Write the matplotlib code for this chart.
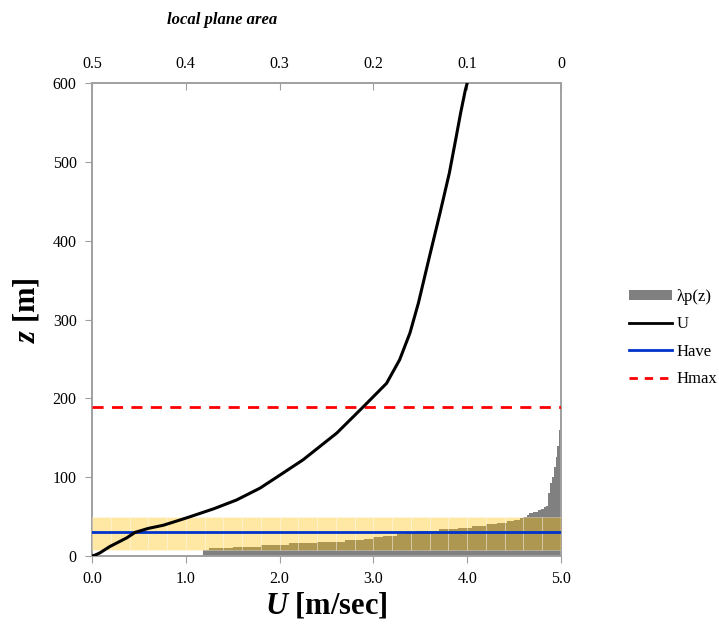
import numpy as np
import matplotlib
matplotlib.use('Agg')
import matplotlib.pyplot as plt
from matplotlib.lines import Line2D
from matplotlib.patches import Patch

plt.rcParams['font.family'] = ['Liberation Serif', 'DejaVu Serif']
plt.rcParams['mathtext.fontset'] = 'custom'
plt.rcParams['mathtext.rm'] = 'Liberation Serif'
plt.rcParams['mathtext.it'] = 'Liberation Serif:italic'
plt.rcParams['mathtext.bf'] = 'Liberation Serif:bold'
plt.rcParams['mathtext.bfit'] = 'Liberation Serif:italic:bold'

# wind profile U(z)
z_u = [0, 1, 4, 12, 23, 30, 35, 39, 45, 50, 60, 71, 86, 100, 122, 156, 189, 219,
       249, 283, 321, 376, 435, 486, 530, 562, 591, 600]
u_val = [0, 0.03, 0.085, 0.19, 0.37, 0.46, 0.6, 0.76, 0.92, 1.05, 1.3, 1.54, 1.79,
         1.97, 2.25, 2.61, 2.89, 3.14, 3.28, 3.39, 3.48, 3.59, 3.71, 3.81,
         3.88, 3.93, 3.98, 4.0]

# local plane area ratio lambda_p(z), bin bottoms and heights [m]
z_lp = [0, 7, 10, 12, 14, 16, 18, 20, 22, 24, 26, 28, 30, 32, 34, 36, 38, 40, 42,
        44, 46, 48, 50, 52, 54, 56, 58, 60, 62, 64, 80, 92, 100, 113, 125, 140, 160]
dz_lp = [7, 3, 2, 2, 2, 2, 2, 2, 2, 2, 2, 2, 2, 2, 2, 2, 2, 2, 2,
         2, 2, 2, 2, 2, 2, 2, 2, 2, 2, 16, 12, 8, 13, 12, 15, 20, 30]
lp_val = [0.382, 0.375, 0.35, 0.32, 0.29, 0.26, 0.23, 0.21, 0.2, 0.19, 0.175, 0.165,
          0.155, 0.13, 0.11, 0.095, 0.08, 0.068, 0.058, 0.05, 0.044, 0.04, 0.036,
          0.034, 0.03, 0.025, 0.021, 0.018, 0.016, 0.014, 0.012, 0.01, 0.007,
          0.005, 0.004, 0.0025, 0.0012]

h_ave = 30
h_max = 189
band_low = 7
band_high = 50

top_ticks = [0.5, 0.4, 0.3, 0.2, 0.1, 0]
top_labels = ['0.5', '0.4', '0.3', '0.2', '0.1', '0']

fig = plt.figure(figsize=(7.19, 6.33), dpi=100)
ax = fig.add_axes([92/719, 77/633, 469/719, 473/633])
ax2 = ax.twiny()

# gray area from the right side (top axis reversed)
ax2.barh(z_lp, lp_val, height=dz_lp, left=0, align='edge', color='#808080',
         edgecolor='none', zorder=1)
ax2.set_xlim(0.5, 0)
ax2.set_xticks(top_ticks)
ax2.set_xticklabels(top_labels)

# yellow band (made of stripes like the original)
stripe_x = np.arange(0.1, 5.0, 0.2)
ax.bar(stripe_x, band_high - band_low, bottom=band_low, width=0.2, color='#FFC000',
       alpha=0.36, edgecolor='white', linewidth=0.6, zorder=3)
ax.set_zorder(ax2.get_zorder() + 1)
ax.patch.set_visible(False)

ax.plot(u_val, z_u, color='black', lw=2.2, zorder=5)
ax.axhline(h_ave, color='#0033CC', lw=2, zorder=4)
ax.axhline(h_max, color='#FF0000', lw=2, ls=(0, (4, 3)), zorder=4)

ax.set_xlim(0, 5)
ax.set_ylim(0, 600)
ax.set_xticks([0, 1, 2, 3, 4, 5])
ax.set_xticklabels(['0.0', '1.0', '2.0', '3.0', '4.0', '5.0'])
ax.set_yticks([0, 100, 200, 300, 400, 500, 600])

for a in (ax, ax2):
    for s in a.spines.values():
        s.set_color('#A0A0A0')
        s.set_linewidth(1.2)
ax.tick_params(axis='both', direction='out', length=5, color='#A0A0A0',
               labelsize=11.5, pad=6)
ax2.tick_params(axis='x', direction='in', length=5, color='#A0A0A0',
                labelsize=11.5, pad=8)

ax.set_xlabel(r'$\mathbfit{U}$ [m/sec]', fontsize=22, fontweight='bold', labelpad=2)
ax.set_ylabel(r'$\mathbfit{z}$ [m]', fontsize=22, fontweight='bold')
ax.yaxis.set_label_coords(-0.108, 0.52)
fig.text(222/719, 1 - 20/633, 'local plane area', fontsize=12, fontweight='bold',
         style='italic', ha='center', va='center')

handles = [Patch(facecolor='#808080', edgecolor='none'),
           Line2D([], [], color='black', lw=2),
           Line2D([], [], color='#0033CC', lw=2),
           Line2D([], [], color='#FF0000', lw=2, ls=(0, (3, 2.5)))]
fig.legend(handles, ['λp(z)', 'U', 'Have', 'Hmax'], loc='upper left',
           bbox_to_anchor=(629/719, 1 - 289/633), frameon=False, fontsize=12,
           borderpad=0, borderaxespad=0, handlelength=2.6, handleheight=0.5,
           labelspacing=0.68, handletextpad=0.25)

fig.savefig('out.png', dpi=100)
